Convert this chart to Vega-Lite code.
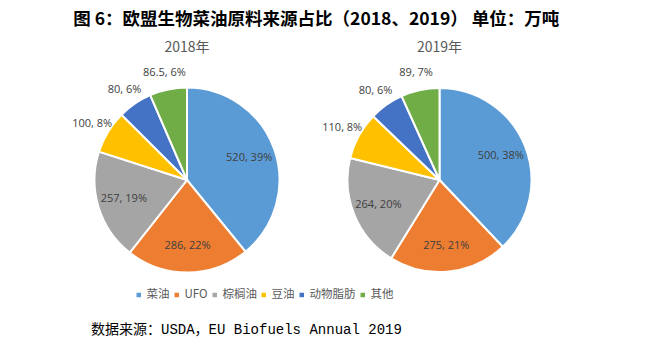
{
  "$schema": "https://vega.github.io/schema/vega-lite/v6.json",
  "padding": {"left": 62, "top": 10, "right": 90, "bottom": 4},
  "config": {
    "view": {"stroke": null},
    "font": "Noto Sans CJK SC"
  },
  "datasets": {
    "pies": [
      {"year": "2018", "type": "菜油", "order": 1, "value": 520, "label": "520, 39%"},
      {"year": "2018", "type": "UFO", "order": 2, "value": 286, "label": "286, 22%"},
      {"year": "2018", "type": "棕榈油", "order": 3, "value": 257, "label": "257, 19%"},
      {"year": "2018", "type": "豆油", "order": 4, "value": 100, "label": "100, 8%"},
      {"year": "2018", "type": "动物脂肪", "order": 5, "value": 80, "label": "80, 6%"},
      {"year": "2018", "type": "其他", "order": 6, "value": 86.5, "label": "86.5, 6%"},
      {"year": "2019", "type": "菜油", "order": 1, "value": 500, "label": "500, 38%"},
      {"year": "2019", "type": "UFO", "order": 2, "value": 275, "label": "275, 21%"},
      {"year": "2019", "type": "棕榈油", "order": 3, "value": 264, "label": "264, 20%"},
      {"year": "2019", "type": "豆油", "order": 4, "value": 110, "label": "110, 8%"},
      {"year": "2019", "type": "动物脂肪", "order": 5, "value": 80, "label": "80, 6%"},
      {"year": "2019", "type": "其他", "order": 6, "value": 89, "label": "89, 7%"}
    ]
  },
  "title": {
    "text": "数据来源：USDA，EU Biofuels Annual 2019",
    "orient": "bottom",
    "anchor": "start",
    "font": "Liberation Mono, Noto Sans CJK SC",
    "fontSize": 14,
    "fontWeight": "normal",
    "color": "#000000",
    "offset": 22,
    "dx": 29
  },
  "vconcat": [
    {
      "title": {
        "text": "图 6：欧盟生物菜油原料来源占比（2018、2019） 单位：万吨",
        "fontSize": 17.5,
        "fontWeight": "bold",
        "color": "#000000",
        "anchor": "middle",
        "offset": 13,
        "dx": 3
      },
      "bounds": "flush",
      "spacing": 2.5,
      "hconcat": [
        {
          "title": {"text": "2018年", "fontSize": 14, "fontWeight": "normal", "color": "#595959", "offset": 12},
          "width": 250,
          "height": 184,
          "data": {"name": "pies"},
          "transform": [{"filter": "datum.year == '2018'"}],
          "encoding": {
            "theta": {"field": "value", "type": "quantitative", "stack": true},
            "order": {"field": "order", "type": "quantitative"}
          },
          "layer": [
            {
              "mark": {"type": "arc", "outerRadius": 92.5, "stroke": "white", "strokeWidth": 2},
              "encoding": {
                "color": {
                  "field": "type", "type": "nominal",
                  "scale": {"domain": ["菜油", "UFO", "棕榈油", "豆油", "动物脂肪", "其他"], "range": ["#5B9BD5", "#ED7D31", "#A5A5A5", "#FFC000", "#4472C4", "#70AD47"]},
                  "legend": {"title": null, "orient": "none", "legendX": 71, "legendY": 201, "direction": "horizontal", "symbolType": "square", "symbolSize": 36, "labelFontSize": 11.5, "labelColor": "#595959", "columnPadding": 0, "labelOffset": 2}
                }
              }
            },
            {
              "mark": {"type": "text", "radius": 66, "fontSize": 11, "color": "#404040", "font": "Open Sans"},
              "encoding": {"text": {"condition": {"test": "datum.value > 150", "field": "label"}, "value": ""}}
            },
            {
              "mark": {"type": "text", "radius": 111, "dy": 2, "fontSize": 11, "color": "#404040", "font": "Open Sans"},
              "encoding": {"text": {"condition": {"test": "datum.value <= 150", "field": "label"}, "value": ""}}
            }
          ]
        },
        {
          "title": {"text": "2019年", "fontSize": 14, "fontWeight": "normal", "color": "#595959", "offset": 12},
          "width": 250,
          "height": 184,
          "data": {"name": "pies"},
          "transform": [{"filter": "datum.year == '2019'"}],
          "encoding": {
            "theta": {"field": "value", "type": "quantitative", "stack": true},
            "order": {"field": "order", "type": "quantitative"}
          },
          "layer": [
            {
              "mark": {"type": "arc", "outerRadius": 92, "stroke": "white", "strokeWidth": 2},
              "encoding": {
                "color": {
                  "field": "type", "type": "nominal",
                  "scale": {"domain": ["菜油", "UFO", "棕榈油", "豆油", "动物脂肪", "其他"], "range": ["#5B9BD5", "#ED7D31", "#A5A5A5", "#FFC000", "#4472C4", "#70AD47"]}
                }
              }
            },
            {
              "mark": {"type": "text", "radius": 66, "fontSize": 11, "color": "#404040", "font": "Open Sans"},
              "encoding": {"text": {"condition": {"test": "datum.value > 150", "field": "label"}, "value": ""}}
            },
            {
              "mark": {"type": "text", "radius": 111, "dy": 2, "fontSize": 11, "color": "#404040", "font": "Open Sans"},
              "encoding": {"text": {"condition": {"test": "datum.value <= 150", "field": "label"}, "value": ""}}
            }
          ]
        }
      ]
    }
  ]
}
